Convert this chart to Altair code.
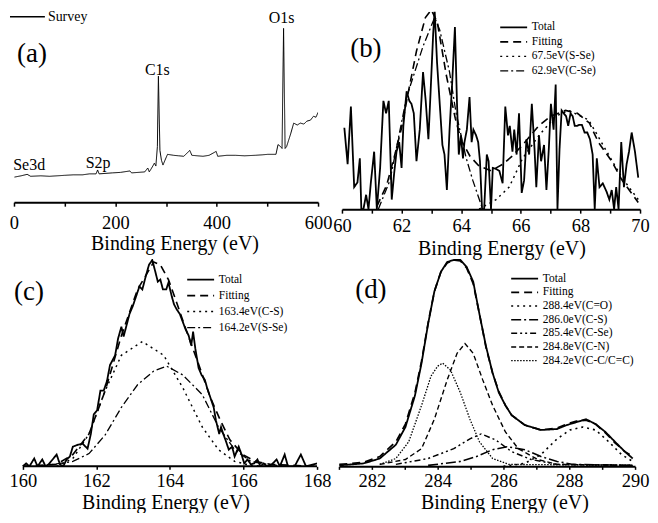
import altair as alt
import pandas as pd

FONT = "Liberation Serif"
AXIS_TITLE = "Binding Energy (eV)"
panel_labels = ["(a)", "(b)", "(c)", "(d)"]

# ---------------- (a) survey spectrum ----------------
a_series = ["Survey"]
a_energy = [1, 14, 26, 33, 53, 70, 85, 100, 117, 135, 149, 162, 165, 168, 194, 210, 229, 232,
            258, 264, 267, 274, 277, 280, 283, 285, 288, 291, 294, 298, 303, 315, 325, 335, 347,
            351, 362, 373, 385, 399, 402, 420, 437, 455, 476, 490, 501, 517, 521, 526, 529, 532,
            535, 538, 546, 552, 559, 565, 572, 578, 585, 591, 596, 600]
a_counts = [25.7, 27, 28.5, 26.5, 27, 26.5, 27, 27.5, 28, 28, 29, 29, 33, 29, 30, 30.5, 32, 30,
            31, 35, 31, 37, 40, 37, 57, 129, 53, 43, 38, 43, 49, 48, 47.5, 47, 53,
            48, 47.5, 47, 48, 52, 47, 48, 48, 47.5, 48, 48.5, 49, 49, 59, 57, 55, 178,
            55, 57, 70, 81, 79, 81, 80, 83, 84, 88, 87, 92]
a_peak_names = ["Se3d", "S2p", "C1s", "O1s"]
a_peak_energy = [30, 166, 283, 528]
a_peak_height = [38, 40, 135, 189]

# ---------------- (b) Se 3d ----------------
b_series = ["Total", "Fitting", "67.5eV(S-Se)", "62.9eV(C-Se)"]
b_total_e = [60.08, 60.19, 60.30, 60.41, 60.52, 60.60, 60.65, 60.72, 60.81, 60.89,
             60.97, 61.08, 61.17, 61.28, 61.39, 61.48, 61.57, 61.67, 61.75, 61.83,
             61.92, 62.00, 62.06, 62.17, 62.26, 62.33, 62.41, 62.50, 62.61, 62.72,
             62.81, 62.90, 62.97, 63.06, 63.11, 63.19, 63.28, 63.37, 63.44, 63.52,
             63.61, 63.70, 63.79, 63.86, 63.92, 63.99, 64.06, 64.11, 64.19, 64.28,
             64.35, 64.41, 64.50, 64.57, 64.63, 64.70, 64.77, 64.86, 64.92, 65.00,
             65.06, 65.17, 65.28, 65.39, 65.48, 65.57, 65.63, 65.72, 65.78, 65.86,
             65.94, 66.03, 66.11, 66.19, 66.28, 66.37, 66.46, 66.52, 66.61, 66.68,
             66.78, 66.86, 66.94, 67.01, 67.10, 67.17, 67.23, 67.30, 67.37, 67.44,
             67.52, 67.59, 67.67, 67.74, 67.81, 67.89, 67.96, 68.05, 68.14, 68.23,
             68.32, 68.41, 68.48, 68.55, 68.64, 68.75, 68.88, 68.97, 69.05, 69.13,
             69.20, 69.28, 69.37, 69.46, 69.55, 69.63, 69.72, 69.83, 69.94]
b_total_i = [85, 47, 107, 23, 28, 53, 0, 0, 15, 0,
             28, 60, 0, 43, 113, 100, 113, 10, 37, 60,
             70, 43, 87, 123, 113, 110, 100, 50, 83, 143,
             113, 73, 120, 183, 207, 153, 110, 67, 57, 20,
             83, 133, 190, 110, 57, 77, 53, 70, 83, 117,
             70, 83, 77, 70, 50, 0, 0, 57, 50, 0,
             43, 42, 40, 27, 107, 77, 87, 60, 83, 57,
             100, 17, 30, 73, 57, 110, 63, 23, 77, 50,
             67, 20, 63, 110, 83, 130, 0, 63, 103, 100,
             97, 87, 100, 97, 87, 87, 88, 88, 80, 80,
             73, 57, 0, 53, 23, 27, 18, 10, 20, 0,
             23, 0, 70, 23, 47, 60, 80, 60, 33]
b_fit_e = [61.17, 61.5, 61.8, 62.0, 62.2, 62.5, 62.8, 63.0, 63.2, 63.5, 63.8, 64.0, 64.3, 64.6,
           65.0, 65.4, 65.7, 66.06, 66.6, 67.0, 67.5, 67.9, 68.3, 68.6, 69.05, 69.4, 69.94]
b_fit_i = [3, 25, 60, 85, 118, 165, 200, 208, 195, 140, 95, 72, 55, 45,
           40, 47, 55, 67, 87, 97, 103, 100, 90, 70, 50, 30, 7]
b_sse_e = [64.6, 65.17, 65.61, 66.06, 66.61, 67.17, 67.61, 68.28, 68.83, 69.39, 69.94]
b_sse_i = [0, 10, 23, 53, 77, 97, 103, 93, 63, 33, 10]
b_cse_e = [61.22, 61.61, 62.17, 62.72, 63.11, 63.28, 63.61, 63.83, 64.17, 64.39, 64.72]
b_cse_i = [0, 30, 117, 170, 200, 187, 143, 100, 53, 30, 0]

# ---------------- (c) S 2p ----------------
c_series = ["Total", "Fitting", "163.4eV(C-S)", "164.2eV(S-Se)"]
c_total_e = [160.00, 160.09, 160.18, 160.31, 160.40, 160.53, 160.62, 160.70, 160.92, 161.01,
             161.10, 161.19, 161.28, 161.36, 161.50, 161.63, 161.76, 161.85, 161.93, 162.02,
             162.11, 162.20, 162.29, 162.37, 162.51, 162.59, 162.68, 162.74, 162.81, 162.90,
             162.99, 163.08, 163.17, 163.25, 163.34, 163.43, 163.52, 163.61, 163.67, 163.74,
             163.81, 163.90, 163.96, 164.05, 164.11, 164.18, 164.27, 164.35, 164.42, 164.51,
             164.58, 164.63, 164.69, 164.78, 164.86, 164.95, 165.01, 165.10, 165.19, 165.25,
             165.34, 165.39, 165.45, 165.51, 165.60, 165.69, 165.76, 165.87, 165.94, 166.02,
             166.11, 166.20, 166.29, 166.38, 166.46, 166.55, 166.64, 166.77, 166.90, 166.99,
             167.12, 167.21, 167.39, 167.56, 167.70, 168.00]
c_total_i = [0, 3, 0, 8, 0, 7, 0, 2, 12, 2,
             0, 7, 10, 20, 22, 23, 18, 33, 53, 57,
             77, 77, 87, 103, 113, 130, 142, 132, 142, 155,
             163, 173, 183, 180, 193, 205, 210, 197, 188, 190,
             180, 180, 187, 173, 165, 160, 155, 147, 140, 133,
             123, 137, 120, 100, 93, 88, 80, 70, 60, 47,
             33, 40, 33, 27, 17, 20, 10, 20, 13, 3,
             7, 2, 3, 7, 0, 3, 0, 2, 7, 0,
             12, 0, 0, 12, 0, 3]
c_fit_e = [160.0, 160.92, 161.36, 161.80, 162.24, 162.68, 163.12, 163.56, 163.74, 163.96,
           164.18, 164.40, 164.75, 165.10, 165.37, 165.63, 165.98, 166.33, 166.73, 168.0]
c_fit_i = [0, 2, 12, 33, 77, 133, 180, 208, 205, 190,
           167, 143, 107, 70, 47, 27, 12, 5, 2, 0]
c_cs_e = [160.92, 161.36, 161.80, 162.24, 162.68, 163.25, 163.83, 164.35, 164.88, 165.32,
          165.76, 166.20, 166.6]
c_cs_i = [0, 8, 33, 77, 113, 127, 113, 80, 40, 17, 5, 1, 0]
c_sse_e = [160.48, 161.36, 161.80, 162.24, 162.68, 163.12, 163.56, 163.91, 164.35, 164.88,
           165.32, 165.76, 166.20, 166.64, 167.2]
c_sse_i = [0, 5, 13, 32, 60, 83, 97, 102, 93, 73, 40, 17, 5, 2, 0]
c_axis_range = [160, 168]

# ---------------- (d) C 1s ----------------
d_series = ["Total", "Fitting", "288.4eV(C=O)", "286.0eV(C-S)", "285.4eV(C-Se)",
            "284.8eV(C-N)", "284.2eV(C-C/C=C)"]
d_total_e = [281.01, 281.75, 282.24, 282.73, 283.02, 283.31, 283.51, 283.71, 283.90, 284.10,
             284.29, 284.49, 284.69, 284.88, 285.08, 285.27, 285.47, 285.67, 285.86, 286.06,
             286.25, 286.65, 287.14, 287.63, 287.92, 288.22, 288.51, 288.80, 289.10, 289.39,
             289.69, 289.93]
d_total_i = [1, 3, 8, 22, 40, 72, 105, 145, 178, 198,
             208, 210, 210, 203, 188, 155, 122, 95, 75, 62,
             52, 42, 37, 38, 42, 45, 48, 43, 35, 25,
             15, 8]
d_fit_i = [2, 4, 10, 25, 43, 75, 107, 146, 178, 198,
           207, 210, 209, 202, 186, 155, 121, 95, 76, 62,
           52, 42, 37, 39, 43, 46, 47, 43, 34, 24,
           15, 10]
d_co_e = [286.0, 286.65, 287.14, 287.63, 288.02, 288.41, 288.80, 289.20, 289.59, 289.93]
d_co_i = [0, 3, 12, 28, 37, 40, 37, 25, 12, 5]
d_cs_e = [283.71, 284.69, 285.18, 285.67, 286.11, 286.65, 287.14, 287.63, 288.12, 289.93]
d_cs_i = [1, 5, 10, 17, 20, 17, 10, 5, 2, 1]
d_cse_e = [282.73, 283.71, 284.49, 284.98, 285.32, 285.76, 286.25, 286.84, 287.63, 289.93]
d_cse_i = [2, 8, 18, 28, 33, 27, 15, 7, 2, 1]
d_cn_e = [282.24, 283.02, 283.51, 283.90, 284.29, 284.59, 284.83, 285.08, 285.37, 285.67,
          286.06, 286.45, 287.04, 287.63, 289.93]
d_cn_i = [2, 7, 18, 48, 88, 115, 125, 115, 88, 62, 35, 18, 7, 2, 1]
d_cc_e = [282.24, 282.73, 283.12, 283.51, 283.80, 284.00, 284.15, 284.39, 284.69, 284.98,
          285.27, 285.67, 286.16, 289.93]
d_cc_i = [2, 8, 25, 62, 92, 102, 105, 98, 75, 48, 25, 8, 2, 1]


def long_df(names, pairs):
    frames = [pd.DataFrame({"E": e, "I": i, "series": n}) for n, (e, i) in zip(names, pairs)]
    return pd.concat(frames, ignore_index=True)


def make_legend(lx, ly, font_size=11.5, path="M-1,0H8", label_offset=23, row_pad=3):
    return alt.Legend(orient="none", legendX=lx, legendY=ly, title=None,
                      symbolType=path, symbolSize=36, symbolStrokeWidth=1.4,
                      symbolStrokeColor="black", symbolFillColor="transparent",
                      labelFont=FONT, labelFontSize=font_size, labelColor="black",
                      labelOffset=label_offset, rowPadding=row_pad, padding=0)


def panel(df, names, dashes, xdom, ticks, step, w, h, ymax, legend, tag, tag_xy,
          label_pad, title_y, title_x=None, extra=None, axis_line=None, tick_size=4):
    ax = dict(values=ticks, labelExpr=f"datum.value % {step} === 0 ? datum.label : ''",
              title=AXIS_TITLE, tickSize=tick_size, labelPadding=label_pad,
              titleY=title_y, titleBaseline="alphabetic",
              domainColor="black", domainWidth=2, tickColor="black", tickWidth=1.5,
              labelFont=FONT, labelFontSize=18.5, labelColor="black",
              titleFont=FONT, titleFontSize=20, titleFontWeight="normal", titleColor="black",
              grid=False, labelFlush=False, labelOverlap=False)
    if title_x is not None:
        ax["titleX"] = title_x
    if axis_line is not None:
        ax["domain"] = False
    xs = alt.Scale(domain=xdom, nice=False, zero=False)
    ys = alt.Scale(domain=[0, ymax], nice=False)
    widths = [1.8] + [1.3] * (len(names) - 1)
    lines = alt.Chart(df).mark_line(color="black", clip=True).encode(
        x=alt.X("E:Q", scale=xs, axis=alt.Axis(**ax)),
        y=alt.Y("I:Q", scale=ys, axis=None),
        strokeDash=alt.StrokeDash("series:N", scale=alt.Scale(domain=names, range=dashes),
                                  legend=legend),
        strokeWidth=alt.StrokeWidth("series:N", scale=alt.Scale(domain=names, range=widths),
                                    legend=None),
    )
    label = alt.Chart(pd.DataFrame({"t": [tag]})).mark_text(
        font=FONT, fontSize=27, color="black", align="center", baseline="middle"
    ).encode(x=alt.value(tag_xy[0]), y=alt.value(tag_xy[1]), text="t:N")
    layers = [lines, label]
    if axis_line is not None:
        rule = alt.Chart(pd.DataFrame({"E": [axis_line[0]], "E2": [axis_line[1]]})).mark_rule(
            color="black", strokeWidth=2
        ).encode(x="E:Q", x2="E2:Q", y=alt.value(h))
        layers.append(rule)
    if extra is not None:
        layers.extend(extra)
    return alt.layer(*layers).properties(width=w, height=h)


# (a)
df_a = long_df(a_series, [(a_energy, a_counts)])
peaks_a = alt.Chart(pd.DataFrame({"E": a_peak_energy, "I": a_peak_height, "name": a_peak_names})).mark_text(
    font=FONT, fontSize=16, color="black", align="center", baseline="middle"
).encode(x="E:Q", y="I:Q", text="name:N")
# key for the survey line, drawn as a short line plus its name
key_df = pd.DataFrame({"name": a_series})
key_line = alt.Chart(key_df).mark_rule(color="black", strokeWidth=1.6).encode(
    x=alt.value(-4), x2=alt.value(31), y=alt.value(5))
key_text = alt.Chart(key_df).mark_text(
    font=FONT, fontSize=14, color="black", align="left", baseline="middle"
).encode(x=alt.value(34), y=alt.value(5), text="name:N")
pa = panel(df_a, a_series, [[1, 0]], [0, 600], [0, 100, 200, 300, 400, 500, 600], 200,
           305, 191, 195, None,
           panel_labels[0], (18, 42), 7.5, 47, title_x=161,
           extra=[peaks_a, key_line, key_text])

# (b)
df_b = long_df(b_series, [(b_total_e, b_total_i), (b_fit_e, b_fit_i),
                          (b_sse_e, b_sse_i), (b_cse_e, b_cse_i)])
pb = panel(df_b, b_series, [[1, 0], [8, 5], [2, 4], [8, 3, 2, 3]], [60, 70],
           list(range(60, 71)), 2, 299, 198, 206, make_legend(156, 10, row_pad=1.5),
           panel_labels[1], (24, 37), 3, 45, title_x=160)

# (c)  the scale starts a little before 160; the axis line is drawn from 160 to 168
df_c = long_df(c_series, [(c_total_e, c_total_i), (c_fit_e, c_fit_i),
                          (c_cs_e, c_cs_i), (c_sse_e, c_sse_i)])
pc = panel(df_c, c_series, [[1, 0], [8, 5], [2, 4], [8, 3, 2, 3]], [159.76, 168],
           list(range(160, 169)), 2, 304, 208, 211, make_legend(171, 15, row_pad=3),
           panel_labels[2], (15, 33), 2, 42, axis_line=c_axis_range, tick_size=3)

# (d)
df_d = long_df(d_series, [(d_total_e, d_total_i), (d_total_e, d_fit_i), (d_co_e, d_co_i),
                          (d_cs_e, d_cs_i), (d_cse_e, d_cse_i), (d_cn_e, d_cn_i),
                          (d_cc_e, d_cc_i)])
pd_ = panel(df_d, d_series, [[1, 0], [8, 5], [2, 4], [10, 3, 2, 3], [6, 3, 2, 3, 2, 3],
                             [5, 3], [1.5, 1.5]], [281, 290],
            list(range(281, 291)), 2, 297, 208, 211, make_legend(170, 14, row_pad=0.7),
            panel_labels[3], (32, 31), 2, 42, title_x=166, tick_size=3)

res = dict(x="independent", y="independent", strokeDash="independent",
           strokeWidth="independent")
row1 = alt.hconcat(pa, pb, spacing=0).resolve_scale(**res)
row2 = alt.hconcat(pc, pd_, spacing=7).resolve_scale(**res)
chart = alt.vconcat(row1, row2, spacing=1).resolve_scale(**res).properties(
    padding=0, background="white"
).configure_view(stroke=None)

chart.save("out.html", embed_options={"renderer": "svg", "actions": False})
